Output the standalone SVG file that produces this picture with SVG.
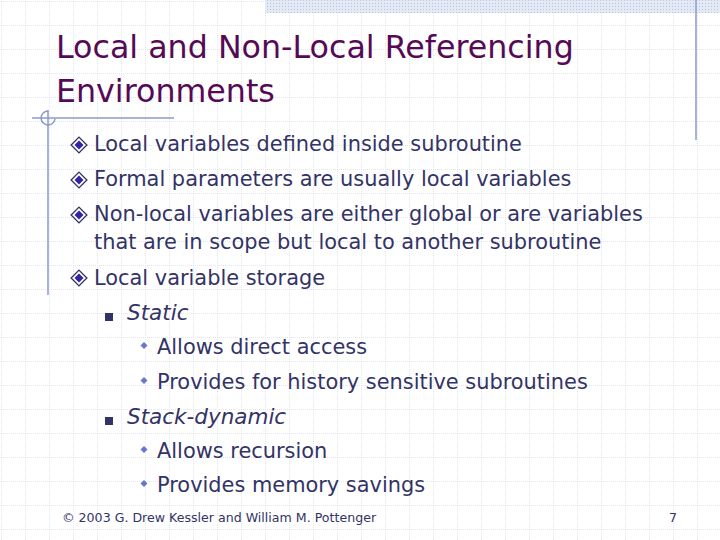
<svg xmlns="http://www.w3.org/2000/svg" width="720" height="540" viewBox="0 0 720 540">
<defs>
<pattern id="grid" x="1" y="1" width="24" height="24" patternUnits="userSpaceOnUse">
<path d="M0 0H24M0 0V24" stroke="#c8cede" stroke-width="1" stroke-dasharray="1 1" fill="none"/>
</pattern>
<pattern id="hatch" width="3" height="3" patternUnits="userSpaceOnUse">
<rect width="3" height="3" fill="#e4e9f6"/>
<rect width="1" height="1" fill="#b9c3e0"/>
</pattern>
<symbol id="dia" viewBox="-8 -8 16 16"><path d="M0 -7L7 0L0 7L-7 0Z" fill="#ffffff" stroke="#333366" stroke-width="1.2"/><path d="M0 -4L4 0L0 4L-4 0Z" fill="#3322aa"/></symbol>
</defs>
<style>
.t{font-family:"DejaVu Sans",Verdana,sans-serif;font-size:31.7px;fill:#560a56}
.b{font-family:"DejaVu Sans",Verdana,sans-serif;font-size:20.9px;fill:#333366}
.i{font-style:italic;font-size:21.5px}
.f{font-family:"DejaVu Sans",Verdana,sans-serif;font-size:12.6px;fill:#333366}
.ln{stroke:#8b9acb;stroke-width:1.5;fill:none}
</style>
<rect width="720" height="540" fill="#ffffff"/>
<rect width="720" height="540" fill="url(#grid)"/>
<rect x="265" y="0" width="455" height="13" fill="url(#hatch)"/>
<g id="deco">
<line class="ln" x1="696" y1="0" x2="696" y2="140"/>
<line class="ln" x1="48" y1="110" x2="48" y2="295"/>
<line class="ln" x1="32" y1="118" x2="174" y2="118"/>
<path class="ln" d="M48 111A7 7 0 1 0 55 119"/>
</g>
<g id="title">
<text class="t" x="56" y="58">Local and Non-Local Referencing</text>
<text class="t" x="56" y="102">Environments</text>
</g>
<g id="body">
<use href="#dia" x="70" y="136" width="18" height="18"/>
<text class="b" x="94" y="151">Local variables defined inside subroutine</text>
<use href="#dia" x="70" y="171" width="18" height="18"/>
<text class="b" x="94" y="186">Formal parameters are usually local variables</text>
<use href="#dia" x="70" y="206" width="18" height="18"/>
<text class="b" x="94" y="221">Non-local variables are either global or are variables</text>
<text class="b" x="94" y="249">that are in scope but local to another subroutine</text>
<use href="#dia" x="70" y="269" width="18" height="18"/>
<text class="b" x="94" y="285">Local variable storage</text>
<rect x="105" y="313" width="8" height="8" fill="#333366"/>
<text class="b i" x="127" y="320">Static</text>
<path d="M144 342l3.5 3.5l-3.5 3.5l-3.5-3.5z" fill="#6677cc"/>
<text class="b" x="157" y="354">Allows direct access</text>
<path d="M144 377l3.5 3.5l-3.5 3.5l-3.5-3.5z" fill="#6677cc"/>
<text class="b" x="157" y="389">Provides for history sensitive subroutines</text>
<rect x="105" y="417" width="8" height="8" fill="#333366"/>
<text class="b i" x="127" y="424">Stack-dynamic</text>
<path d="M144 446l3.5 3.5l-3.5 3.5l-3.5-3.5z" fill="#6677cc"/>
<text class="b" x="157" y="458">Allows recursion</text>
<path d="M144 480l3.5 3.5l-3.5 3.5l-3.5-3.5z" fill="#6677cc"/>
<text class="b" x="157" y="492">Provides memory savings</text>
</g>
<g id="footer">
<text class="f" x="62" y="522">© 2003 G. Drew Kessler and William M. Pottenger</text>
<text class="f" x="677" y="522" text-anchor="end">7</text>
</g>
</svg>
